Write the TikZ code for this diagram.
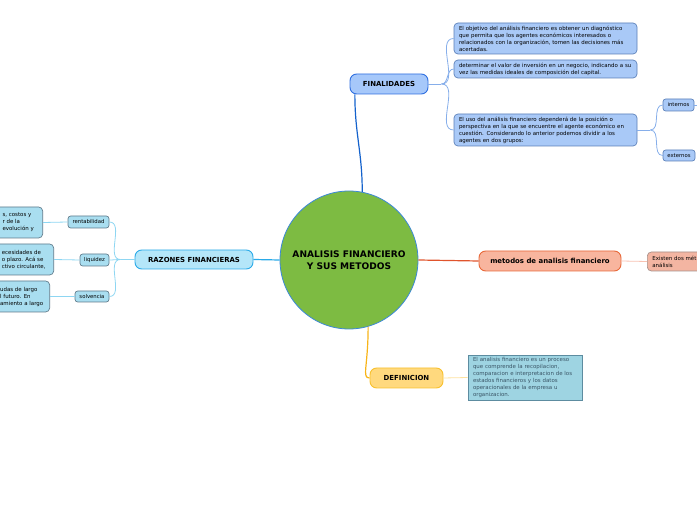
\documentclass[tikz,border=0pt]{standalone}
\usepackage{fontspec}
\setmainfont{DejaVu Sans}
\definecolor{cgreen}{HTML}{7DBB42}
\definecolor{cbord}{HTML}{3B88D8}
\definecolor{finfill}{HTML}{A6C8FA}
\definecolor{finbord}{HTML}{2F6FE0}
\definecolor{finline}{HTML}{1462CC}
\definecolor{objfill}{HTML}{A9C9F7}
\definecolor{objbord}{HTML}{5A7FB8}
\definecolor{objline}{HTML}{86AEEA}
\definecolor{razfill}{HTML}{B4E6F9}
\definecolor{razbord}{HTML}{2AAAE8}
\definecolor{rtfill}{HTML}{A9DEF0}
\definecolor{rtbord}{HTML}{5F7A8A}
\definecolor{rtline}{HTML}{8ED6F2}
\definecolor{metfill}{HTML}{F8B59E}
\definecolor{metbord}{HTML}{E86838}
\definecolor{metline}{HTML}{E0542C}
\definecolor{mtfill}{HTML}{F3B5A2}
\definecolor{mtbord}{HTML}{A58E88}
\definecolor{mtline}{HTML}{F8C2B2}
\definecolor{deffill}{HTML}{FFD97E}
\definecolor{defbord}{HTML}{F8C02C}
\definecolor{defline}{HTML}{F8B418}
\definecolor{dtfill}{HTML}{9ED4E2}
\definecolor{dtbord}{HTML}{5D8CA0}
\definecolor{dtline}{HTML}{FDE2A0}
\definecolor{dttext}{HTML}{3A5566}
\tikzset{
  main/.style={circle, draw=cbord, fill=cgreen, line width=0.6pt, minimum size=103.5pt,
    inner sep=0pt, align=center, font=\fontsize{6.8}{8.6}\selectfont\bfseries},
  topic/.style={rounded corners=5pt, draw, line width=0.7pt, inner sep=0pt,
    font=\fontsize{5.2}{6}\selectfont\bfseries},
  leaf/.style={rounded corners=3pt, draw, line width=0.5pt, inner xsep=3.75pt,
    inner ysep=0pt, align=left, font=\fontsize{4.1}{5.25}\selectfont},
  tag/.style={rounded corners=2pt, draw, line width=0.5pt, inner sep=0pt,
    font=\fontsize{4}{4.5}\selectfont},
  link/.style={line width=0.9pt},
  twig/.style={line width=0.6pt}
}
\begin{document}
\begin{tikzpicture}[x=0.75pt,y=-0.75pt]
  \useasboundingbox (0,0) rectangle (697,520);
  \clip (0,0) rectangle (697,520);
  \node[main] (Centro) at (349,260) {ANALISIS FINANCIERO\\Y SUS METODOS};

  \node[topic, fill=finfill, draw=finbord, minimum width=58.5pt, minimum height=15pt] (Fin) at (389,84) {FINALIDADES};
  \node[leaf, fill=objfill, draw=objbord, text width=129.75pt, minimum height=23.25pt] (Obj) at (545.5,38.5)
    {El objetivo del análisis financiero es obtener un diagnóstico\\que permita que los agentes económicos interesados o\\relacionados con la organización, tomen las decisiones más\\acertadas.};
  \node[leaf, fill=objfill, draw=objbord, text width=129.75pt, minimum height=13.5pt] (Val) at (545.5,69)
    {determinar el valor de inversión en un negocio, indicando a su\\vez las medidas ideales de composición del capital.};
  \node[leaf, fill=objfill, draw=objbord, text width=129.75pt, minimum height=24pt] (Uso) at (545.5,130)
    {El uso del análisis financiero dependerá de la posición o\\perspectiva en la que se encuentre el agente económico en\\cuestión. Considerando lo anterior podemos dividir a los\\agentes en dos grupos:};
  \node[tag, fill=objfill, draw=objbord, minimum width=23.25pt, minimum height=9pt] (Int) at (678.5,105) {internos};
  \node[tag, fill=objfill, draw=objbord, minimum width=24pt, minimum height=8.25pt] (Ext) at (679,155.5) {externos};
  \coordinate (IntEnd) at (705,105);

  \node[topic, fill=razfill, draw=razbord, minimum width=88.5pt, minimum height=14.25pt] (Raz) at (194,259.5) {RAZONES FINANCIERAS};
  \node[tag, fill=rtfill, draw=rtbord, minimum width=30.75pt, minimum height=9pt] (Rent) at (88.5,222) {rentabilidad};
  \node[tag, fill=rtfill, draw=rtbord, minimum width=21.75pt, minimum height=9pt] (Liq) at (94.5,260) {liquidez};
  \node[tag, fill=rtfill, draw=rtbord, minimum width=25.5pt, minimum height=8.25pt] (Solv) at (92,296.5) {solvencia};
  \node[leaf, fill=rtfill, draw=rtbord, minimum width=36.75pt, minimum height=23.25pt, anchor=east] (RentT) at (43,222.5)
    {s, costos y\\r de la\\evolución y};
  \node[leaf, fill=rtfill, draw=rtbord, minimum width=45pt, minimum height=23.25pt, anchor=east] (LiqT) at (54,259.5)
    {ecesidades de\\o plazo. Acá se\\ctivo circulante,};
  \node[leaf, fill=rtfill, draw=rtbord, minimum width=42pt, minimum height=23.25pt, anchor=east] (SolvT) at (50,296.5)
    {udas de largo\\l futuro. En\\amiento a largo};

  \node[topic, fill=metfill, draw=metbord, minimum width=106.5pt, minimum height=15pt] (Met) at (550,261) {metodos de analisis financiero};
  \node[leaf, fill=mtfill, draw=mtbord, text width=75pt, minimum height=14.25pt, anchor=west] (MetT) at (647,261.5)
    {Existen dos mét\\análisis};

  \node[topic, fill=deffill, draw=defbord, minimum width=54.75pt, minimum height=15pt] (Def) at (406.5,378) {DEFINICION};
  \node[leaf, rounded corners=0pt, fill=dtfill, draw=dtbord, text=dttext, text width=78pt, minimum height=33.75pt] (DefT) at (525,377.5)
    {El analisis financiero es un proceso\\que comprende la recopilacion,\\comparacion e interpretacion de los\\estados financieros y los datos\\operacionales de la empresa u\\organizacion.};

  \draw[link, finline] (Centro.79) .. controls +(0,-40) and +(0,40) .. ([xshift=4pt]Fin.south west);
  \draw[link, razbord] (Centro.west) -- (Raz.east);
  \draw[link, metline] (Centro.east) -- (Met.west);
  \draw[link, defline] (Centro.-74) .. controls +(0,40) and +(-8,0) .. (Def.west);

  \draw[twig, objline] (Fin.east) -- ++(13,0) coordinate (FinB);
  \draw[twig, objline] (FinB) to[out=0,in=180] (Obj.west);
  \draw[twig, objline] (FinB) to[out=0,in=180] (Val.west);
  \draw[twig, objline] (FinB) to[out=0,in=180] (Uso.west);
  \draw[twig, objline] (Uso.east) -- ++(13,0) coordinate (UsoB);
  \draw[twig, objline] (UsoB) to[out=0,in=180] (Int.west);
  \draw[twig, objline] (UsoB) to[out=0,in=180] (Ext.west);
  \draw[twig, objline] (Int.east) -- (IntEnd);

  \draw[twig, rtline] (Raz.west) -- ++(-14,0) coordinate (RazB);
  \draw[twig, rtline] (RazB) to[out=180,in=0] (Rent.east);
  \draw[twig, rtline] (RazB) to[out=180,in=0] (Liq.east);
  \draw[twig, rtline] (RazB) to[out=180,in=0] (Solv.east);
  \draw[twig, rtline] (Rent.west) -- (RentT.east);
  \draw[twig, rtline] (Liq.west) -- (LiqT.east);
  \draw[twig, rtline] (Solv.west) -- (SolvT.east);

  \draw[twig, mtline] (Met.east) -- (MetT.west);
  \draw[twig, dtline] (Def.east) -- (DefT.west);
\end{tikzpicture}
\end{document}
